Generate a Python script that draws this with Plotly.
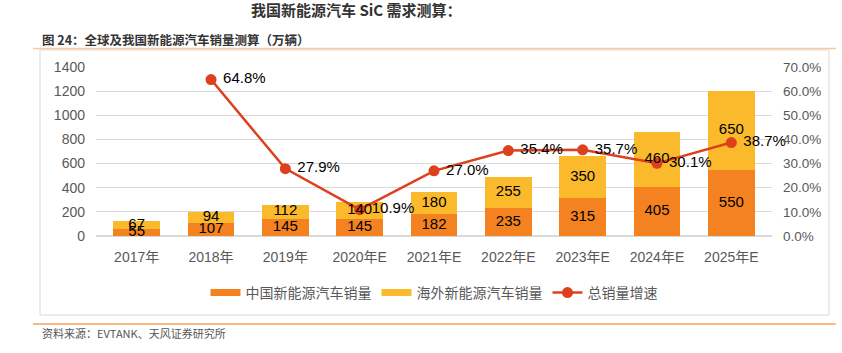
import plotly.graph_objects as go

categories = ["2017年", "2018年", "2019年", "2020年E", "2021年E", "2022年E", "2023年E", "2024年E", "2025年E"]
china_sales = [55, 107, 145, 145, 182, 235, 315, 405, 550]
overseas_sales = [67, 94, 112, 140, 180, 255, 350, 460, 650]
growth_pct = [None, 64.8, 27.9, 10.9, 27.0, 35.4, 35.7, 30.1, 38.7]

left_ticks = [0, 200, 400, 600, 800, 1000, 1200, 1400]
right_ticks = [0, 10, 20, 30, 40, 50, 60, 70]
right_tick_labels = [f"{v:.1f}%" for v in right_ticks]

LEFT_MAX = 1400
RIGHT_MAX = 70

FONT = "Liberation Sans, Arial, Noto Sans CJK SC, sans-serif"
CJK = "Noto Sans CJK SC, sans-serif"
ORANGE = "#F58220"
YELLOW = "#FBBA2B"
RED = "#DE3F1C"
GRAY = "#595959"

fig = go.Figure()
fig.add_trace(go.Bar(
    x=categories, y=china_sales, name="中国新能源汽车销量", showlegend=False, legendgroup="cn",
    marker=dict(color=ORANGE, line=dict(width=0)),
))
fig.add_trace(go.Bar(
    x=categories, y=overseas_sales, name="海外新能源汽车销量", showlegend=False, legendgroup="os",
    marker=dict(color=YELLOW, line=dict(width=0)),
))
# legend proxies (wide rectangle swatches, as in the reference)
fig.add_trace(go.Scatter(
    x=[None], y=[None], mode="lines", name="中国新能源汽车销量", legendgroup="cn",
    line=dict(color=ORANGE, width=7), hoverinfo="skip",
))
fig.add_trace(go.Scatter(
    x=[None], y=[None], mode="lines", name="海外新能源汽车销量", legendgroup="os",
    line=dict(color=YELLOW, width=7), hoverinfo="skip",
))
fig.add_trace(go.Scatter(
    x=categories, y=growth_pct, name="总销量增速", yaxis="y2",
    mode="lines+markers+text",
    line=dict(color=RED, width=2.5),
    marker=dict(color=RED, size=11),
    text=[("" if v is None else f" {v:.1f}%") for v in growth_pct],
    textposition="middle right", cliponaxis=False,
    textfont=dict(color="black", size=15, family=FONT),
))
# segment labels drawn on top of the line (centre of each stacked segment),
# placed on the right axis (scaled) so they render above the line layer
scale = RIGHT_MAX / LEFT_MAX
china_mid = [c / 2 * scale for c in china_sales]
overseas_mid = [(c + o / 2) * scale for c, o in zip(china_sales, overseas_sales)]
fig.add_trace(go.Scatter(
    x=categories, y=china_mid, yaxis="y2", mode="text", text=[str(v) for v in china_sales],
    textposition="middle center", showlegend=False, hoverinfo="skip", cliponaxis=False,
    textfont=dict(color="black", size=15, family=FONT),
))
fig.add_trace(go.Scatter(
    x=categories, y=overseas_mid, yaxis="y2", mode="text", text=[str(v) for v in overseas_sales],
    textposition="middle center", showlegend=False, hoverinfo="skip", cliponaxis=False,
    textfont=dict(color="black", size=15, family=FONT),
))

# paper coordinate helpers (plot area: x 96..772, y 67..236 px)
def px_x(p):
    return (p - 96) / 676.0

def px_y(p):
    return (236 - p) / 169.0

shapes = [
    dict(type="rect", xref="paper", yref="paper", x0=px_x(40), x1=px_x(829), y0=px_y(315), y1=px_y(50),
         line=dict(color="#D9D9D9", width=1), fillcolor="rgba(0,0,0,0)", layer="below"),
    dict(type="line", xref="paper", yref="paper", x0=px_x(33), x1=px_x(836), y0=px_y(48.5), y1=px_y(48.5),
         line=dict(color="#F9C79B", width=1.5)),
    dict(type="line", xref="paper", yref="paper", x0=px_x(33), x1=px_x(836), y0=px_y(324), y1=px_y(324),
         line=dict(color="#F7A35C", width=1.5)),
]

annotations = [
    dict(text="<b>我国新能源汽车 SiC 需求测算：</b>", xref="paper", yref="paper", x=px_x(356), y=px_y(9),
         xanchor="center", yanchor="middle", showarrow=False, font=dict(size=15, color="#333333", family=CJK)),
    dict(text="<b>图 24：全球及我国新能源汽车销量测算（万辆）</b>", xref="paper", yref="paper", x=px_x(40), y=px_y(39),
         xanchor="left", yanchor="middle", showarrow=False, font=dict(size=12.5, color="#333333", family=CJK)),
    dict(text="资料来源：EVTANK、天风证券研究所", xref="paper", yref="paper", x=px_x(40), y=px_y(333),
         xanchor="left", yanchor="middle", showarrow=False, font=dict(size=11, color="#555555", family=CJK)),
]

fig.update_layout(
    width=842, height=353,
    margin=dict(l=96, r=70, t=67, b=117),
    paper_bgcolor="white", plot_bgcolor="white",
    barmode="stack", bargap=0.375,
    font=dict(family=FONT, size=14, color=GRAY),
    showlegend=True,
    legend=dict(orientation="h", x=0.5, xanchor="center", y=px_y(293), yanchor="middle",
                font=dict(size=14, color=GRAY, family=CJK), itemwidth=30, traceorder="normal"),
    xaxis=dict(type="category", showgrid=False, showline=False, ticks="",
               tickfont=dict(size=14, color=GRAY, family=FONT), ticklabelstandoff=11),
    yaxis=dict(range=[0, LEFT_MAX], tickvals=left_ticks, showgrid=True, gridcolor="#D9D9D9", gridwidth=1,
               zeroline=True, zerolinecolor="#D9D9D9", showline=False, ticks="",
               tickfont=dict(size=14, color=GRAY), ticklabelstandoff=10),
    yaxis2=dict(range=[0, RIGHT_MAX], tickvals=right_ticks, ticktext=right_tick_labels, overlaying="y", side="right",
                showgrid=False, zeroline=False, showline=False, ticks="",
                tickfont=dict(size=13.5, color=GRAY), ticklabelstandoff=10),
    shapes=shapes, annotations=annotations,
)

fig.write_html("out.html")
